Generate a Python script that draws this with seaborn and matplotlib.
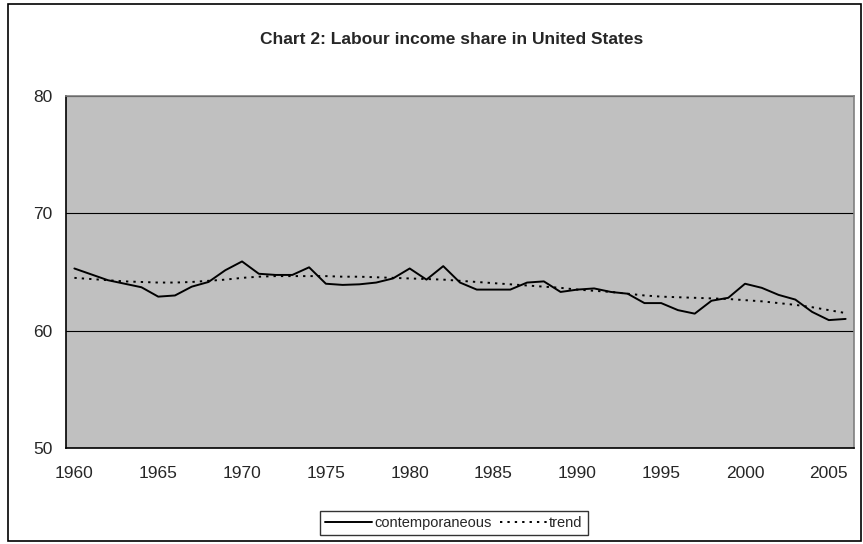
import matplotlib
matplotlib.use("Agg")
import matplotlib.pyplot as plt
import seaborn as sns
import pandas as pd
import numpy as np
from matplotlib.patches import Rectangle
from matplotlib.lines import Line2D

years = list(range(1960, 2007))
contemporaneous = [65.3, 64.8, 64.3, 64.0, 63.7, 62.9, 63.0, 63.75, 64.15, 65.15,
                   65.9, 64.85, 64.75, 64.75, 65.4, 64.0, 63.9, 63.95, 64.1, 64.45,
                   65.3, 64.35, 65.5, 64.1, 63.5, 63.5, 63.5, 64.1, 64.2, 63.3,
                   63.5, 63.6, 63.3, 63.15, 62.35, 62.35, 61.75, 61.45, 62.55, 62.8,
                   64.0, 63.65, 63.05, 62.65, 61.6, 60.9, 61.0]
trend = [64.5, 64.4, 64.3, 64.2, 64.15, 64.1, 64.1, 64.15, 64.25, 64.35,
         64.5, 64.6, 64.65, 64.65, 64.65, 64.65, 64.6, 64.6, 64.55, 64.5,
         64.45, 64.4, 64.35, 64.25, 64.15, 64.05, 63.95, 63.85, 63.75, 63.65,
         63.5, 63.4, 63.3, 63.15, 63.0, 62.9, 62.85, 62.8, 62.75, 62.7,
         62.6, 62.5, 62.35, 62.2, 62.0, 61.75, 61.5]
title = "Chart 2: Labour income share in United States"
series_names = ["contemporaneous", "trend"]
y_ticks = [50, 60, 70, 80]
x_label_years = [1960, 1965, 1970, 1975, 1980, 1985, 1990, 1995, 2000, 2005]

sns.set_style("white")
plt.rcParams['font.family'] = ['Liberation Sans', 'DejaVu Sans']

df = pd.DataFrame({
    "year": years * 2,
    "value": contemporaneous + trend,
    "series": [series_names[0]] * len(years) + [series_names[1]] * len(years),
})

W, H = 863, 544
fig = plt.figure(figsize=(W / 100, H / 100), dpi=100)
left, right, top, bottom = 66, 854, 96, 448
ax = fig.add_axes([left / W, 1 - bottom / H, (right - left) / W, (bottom - top) / H])
ax.set_facecolor("#C0C0C0")

sns.lineplot(data=df, x="year", y="value", hue="series", style="series",
             palette=["black", "black"], dashes=[(None, None), (1.2, 2.6)],
             linewidth=1.4, ax=ax, legend=False)

ax.set_xlim(years[0] - 0.5, years[-1] + 0.5)
ax.set_ylim(50, 80)
ax.set_yticks(y_ticks)
ax.set_yticklabels([str(v) for v in y_ticks], fontsize=12.5)
ax.yaxis.grid(True, color="black", linewidth=0.8)
ax.set_axisbelow(True)
ax.set_xticks(x_label_years)
ax.set_xticklabels([str(v) for v in x_label_years], fontsize=12.5)
ax.tick_params(axis="x", length=0, pad=13)
ax.set_xticks(np.arange(years[0] - 0.5, years[-1] + 1.0, 1.0), minor=True)
ax.tick_params(axis="x", which="minor", length=4.5, width=1, color="black", direction="out")
ax.tick_params(axis="y", length=4.5, width=1, color="black", direction="out", pad=5)
ax.set_xlabel("")
ax.set_ylabel("")
for s in ["top", "right"]:
    ax.spines[s].set_color("#808080")
    ax.spines[s].set_linewidth(1.2)
for s in ["left", "bottom"]:
    ax.spines[s].set_color("black")
    ax.spines[s].set_linewidth(1.2)

fig.text(452 / W, 1 - 40 / H, title, ha="center", va="center",
         fontsize=12.5, fontweight="bold")

handles = [Line2D([], [], color="black", linewidth=1.4),
           Line2D([], [], color="black", linewidth=1.4, linestyle=(0, (1.2, 2.6)))]
leg = fig.legend(handles, series_names, loc="center", ncol=2,
                 bbox_to_anchor=(454 / W, 1 - 523 / H), frameon=True,
                 fancybox=False, edgecolor="black", fontsize=10.5,
                 handlelength=3.2, handletextpad=0.15, columnspacing=0.6,
                 borderpad=0.35, borderaxespad=0)
leg.get_frame().set_linewidth(1.0)

fig.patches.append(Rectangle((8 / W, 1 - 541 / H), (861 - 8) / W, (541 - 4) / H,
                             transform=fig.transFigure, fill=False,
                             edgecolor="black", linewidth=1.2))

fig.savefig("out.png", dpi=100)
